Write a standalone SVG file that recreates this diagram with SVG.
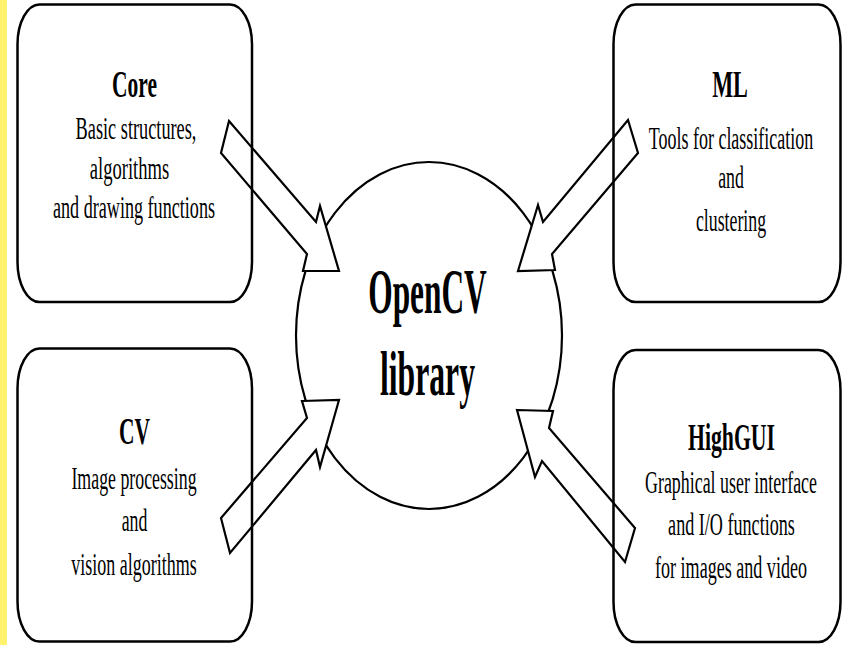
<svg xmlns="http://www.w3.org/2000/svg" width="842" height="645" viewBox="0 0 842 645">
<style>
.box{fill:none;stroke:#000;stroke-width:2.5}
.arr{fill:#fff;stroke:#000;stroke-width:2.2;stroke-linejoin:miter}
.hub{fill:#fff;stroke:#000;stroke-width:2.2}
text{font-family:"Liberation Serif","Times New Roman",serif;fill:#000;text-anchor:middle}
.t{font-size:37px;font-weight:bold}
.d{font-size:31px}
.c{font-size:64px;font-weight:bold}
</style>
<rect x="0" y="0" width="842" height="645" fill="#fff"/>
<rect x="0" y="0" width="7" height="645" fill="#fff36e"/>
<g id="hub">
<ellipse class="hub" cx="429" cy="335.5" rx="133" ry="173.5"/>
<text class="c" transform="translate(427.5,313) scale(0.49,1)">OpenCV</text>
<text class="c" transform="translate(427.5,395) scale(0.495,1)">library</text>
</g>
<g id="connectors">
<polygon class="arr" points="229,121 316,222 320,206 339,271 303,271 307,254 221,153"/>
<polygon class="arr" points="628,120 638,153 552,254 555,270 518,271 538,205 543,222"/>
<polygon class="arr" points="302,401 339,400 320,467 316,450 230,553 221,518 307,418"/>
<polygon class="arr" points="517,410 553,411 549,428 635,528 625,562 542,461 535,477"/>
</g>
<g id="core">
<rect class="box" x="17.5" y="4.5" width="234.5" height="297.5" rx="22" ry="40"/>
<text class="t" transform="translate(134.5,97) scale(0.58,1)">Core</text>
<text class="d" transform="translate(136,139) scale(0.59,1)">Basic structures,</text>
<text class="d" transform="translate(129.5,179) scale(0.6,1)">algorithms</text>
<text class="d" transform="translate(134,218) scale(0.585,1)">and drawing functions</text>
</g>
<g id="ml">
<rect class="box" x="613.5" y="4.5" width="227" height="297.5" rx="22" ry="40"/>
<text class="t" transform="translate(730,97) scale(0.6,1)">ML</text>
<text class="d" transform="translate(731,149) scale(0.58,1)">Tools for classification</text>
<text class="d" transform="translate(731,188) scale(0.575,1)">and</text>
<text class="d" transform="translate(731,231) scale(0.575,1)">clustering</text>
</g>
<g id="cv">
<rect class="box" x="17.5" y="348.5" width="234.5" height="293" rx="22" ry="40"/>
<text class="t" transform="translate(134.5,444) scale(0.58,1)">CV</text>
<text class="d" transform="translate(134,489) scale(0.575,1)">Image processing</text>
<text class="d" transform="translate(134.5,531) scale(0.575,1)">and</text>
<text class="d" transform="translate(134,575) scale(0.58,1)">vision algorithms</text>
</g>
<g id="highgui">
<rect class="box" x="613.5" y="350" width="227" height="292" rx="22" ry="40"/>
<text class="t" transform="translate(731.5,450) scale(0.588,1)">HighGUI</text>
<text class="d" transform="translate(731,493) scale(0.578,1)">Graphical user interface</text>
<text class="d" transform="translate(731.5,535) scale(0.585,1)">and I/O functions</text>
<text class="d" transform="translate(731,578) scale(0.583,1)">for images and video</text>
</g>
</svg>
